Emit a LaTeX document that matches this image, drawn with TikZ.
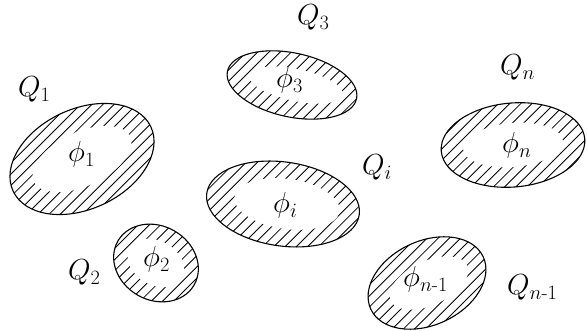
\documentclass[tikz,border=0pt]{standalone}
\usepackage{fix-cm}
\usepackage{amsmath}
\tikzset{
  outline/.style={line width=1.1pt},
  hatchline/.style={line width=0.85pt},
  lab/.style={inner sep=0pt, anchor=base west, font=\fontsize{29}{34}\selectfont},
}
% #1 cx, #2 cy, #3 rotation, #4 a, #5 b, #6 inner a, #7 inner b, #8 inner x offset
\newcommand\hatchell[8]{%
  \begin{scope}
    \clip[rotate around={#3:(#1,#2)}] (#1,#2) ellipse[x radius=#4, y radius=#5];
    \foreach \k in {-13,...,13}
      \draw[hatchline] ({#1+\k*11.2-130}, {#2-130}) -- ++(260,260);
    \fill[white, rotate around={#3:({#1+#8},#2)}] ({#1+#8},#2) ellipse[x radius=#6, y radius=#7];
  \end{scope}
  \draw[outline, rotate around={#3:(#1,#2)}] (#1,#2) ellipse[x radius=#4, y radius=#5];
}
\begin{document}
\begin{tikzpicture}[x=1pt,y=1pt]
  \useasboundingbox (0,0) rectangle (587,331);
  % ellipses
  \hatchell{82}{172}{25}{76}{50}{53}{27}{0}
  \hatchell{292}{246}{-12}{66}{32}{48}{16}{4}
  \hatchell{283}{127}{-8}{77}{42}{53}{25}{4}
  \hatchell{513}{186}{5}{72}{42}{50}{22}{0}
  \hatchell{156}{68}{-30}{44}{37}{30}{22}{0}
  \hatchell{427}{48}{25}{62}{42}{42}{22}{2}
  % phi labels
  \node[lab] (p1) at (68,169) {$\phi_1$};
  \node[lab] (p3) at (276,243) {$\phi_3$};
  \node[lab] (pi) at (273,118) {$\phi_i$};
  \node[lab] (pn) at (502,178) {$\phi_n$};
  \node[lab] (p2) at (143,64) {$\phi_2$};
  \node[lab] (pn1) at (403,44) {$\phi_{n\text{-}1}$};
  % Q labels
  \node[lab] (q1) at (18,234) {$Q_1$};
  \node[lab] (q3) at (297,306) {$Q_3$};
  \node[lab] (qi) at (362,156) {$Q_i$};
  \node[lab] (qn) at (500,256) {$Q_n$};
  \node[lab] (q2) at (68,51) {$Q_2$};
  \node[lab] (qn1) at (507,36) {$Q_{n\text{-}1}$};
\end{tikzpicture}
\end{document}
